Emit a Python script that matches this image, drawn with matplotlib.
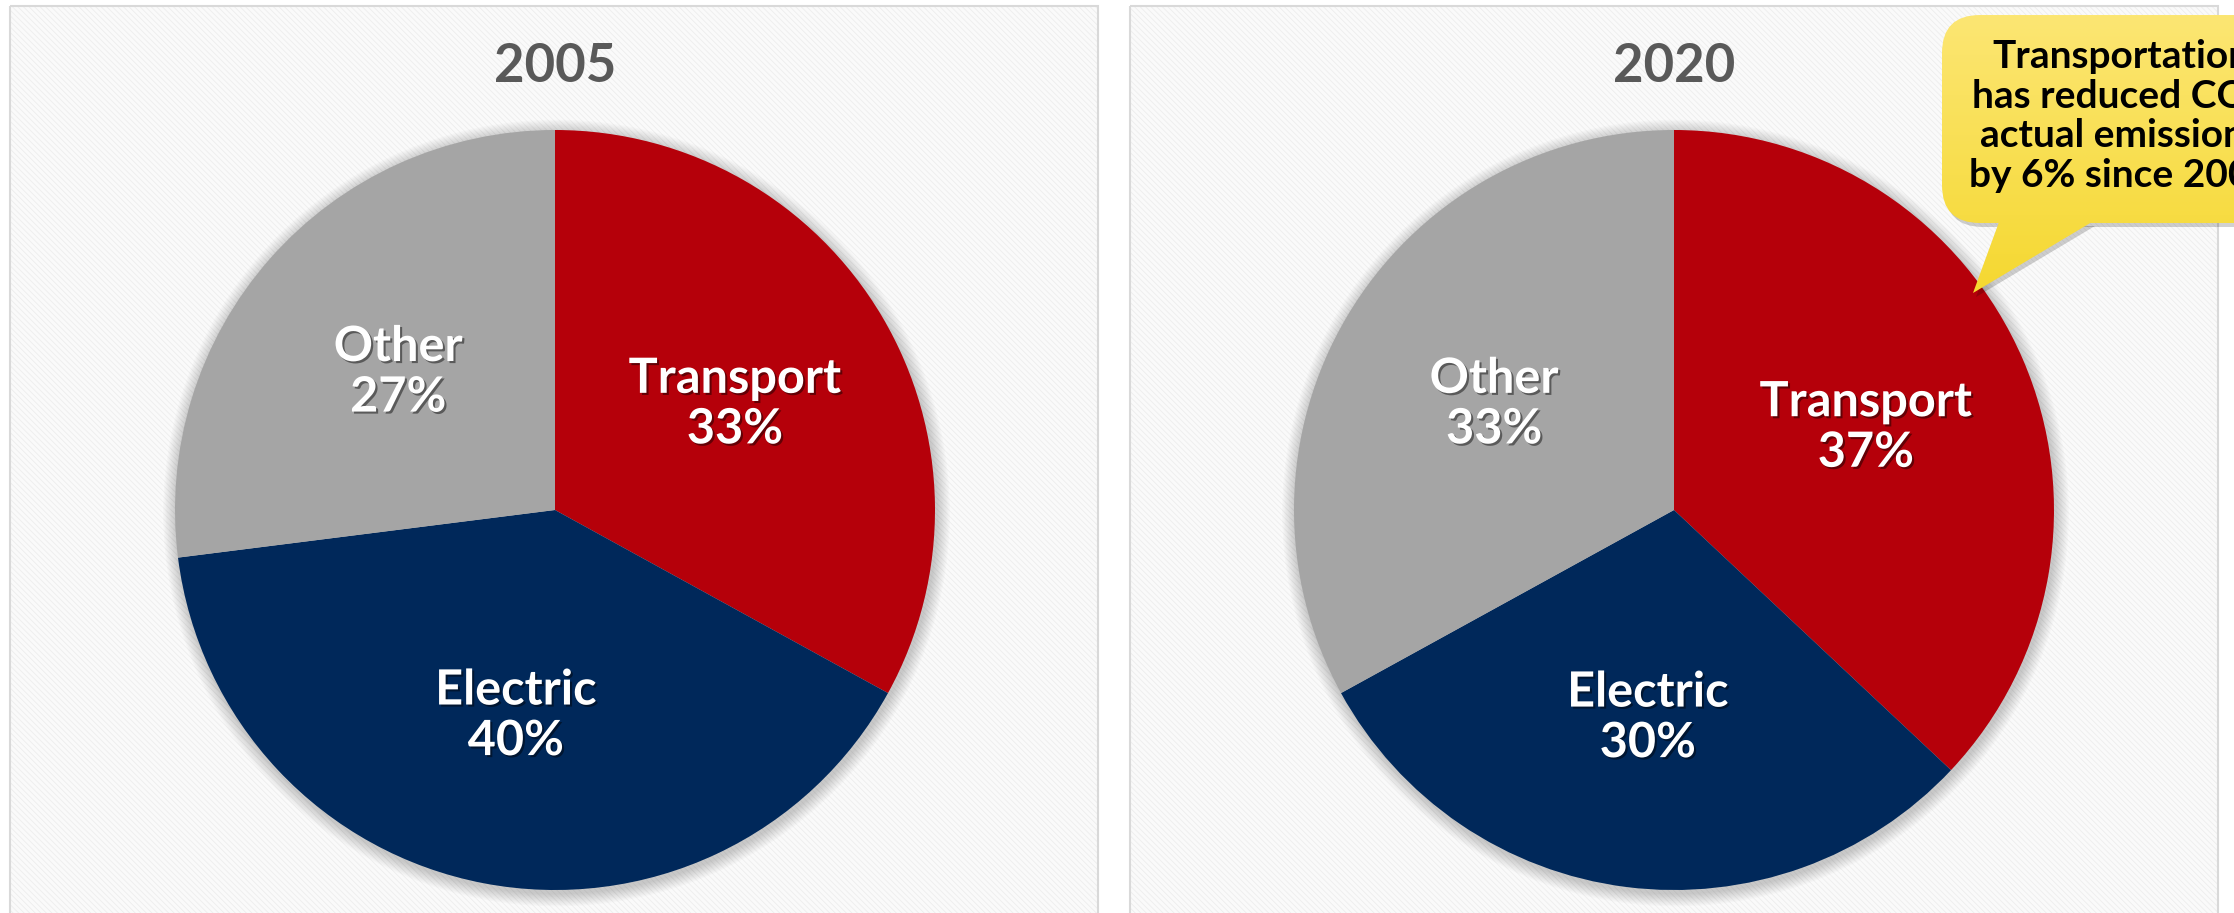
import numpy as np
import matplotlib.pyplot as plt
from matplotlib.patches import Rectangle, FancyBboxPatch, Polygon, Circle
from matplotlib.colors import LinearSegmentedColormap
import matplotlib.patheffects as pe

W, H = 2234, 913

# data
years = ['2005', '2020']
sectors = ['Transport', 'Electric', 'Other']
shares_2005 = [33, 40, 27]
shares_2020 = [37, 30, 33]
colors = ['#B5000A', '#00285A', '#A5A5A5']
callout_lines = ['Transportation', 'has reduced CO2', 'actual emissions', 'by 6% since 2005']

plt.rcParams['hatch.linewidth'] = 0.6
fig = plt.figure(figsize=(W / 100, H / 100), dpi=100)
fig.patch.set_facecolor('white')

# fond (pixel coords)
bg = fig.add_axes([0, 0, 1, 1], zorder=0)
bg.set_xlim(0, W)
bg.set_ylim(H, 0)
bg.axis('off')

panels = [(10, 1098), (1130, 2218)]
for x0, x1 in panels:
    bg.add_patch(Rectangle((x0, 6), x1 - x0, H, facecolor='#FAFAFA', edgecolor='#EDEDED',
                           hatch='\\\\\\\\\\\\', linewidth=0))
    bg.add_patch(Rectangle((x0, 6), x1 - x0, H, fill=False, edgecolor='#D9D9D9', linewidth=1.5))

# camemberts
centers = [555, 1674]
cy, r = 510, 380
lim = 1.1
for cx, year, shares in zip(centers, years, [shares_2005, shares_2020]):
    bg.text(cx, 82, year, ha='center', va='baseline', fontsize=38, fontweight='bold',
            color='#595959', family=['Lato', 'DejaVu Sans'])
    ax = fig.add_axes([(cx - r * lim) / W, (H - cy - r * lim) / H, 2 * r * lim / W, 2 * r * lim / H],
                      zorder=2)
    # ombre douce
    for i in range(10):
        ax.add_patch(Circle((0.004, -0.008), 1 + 0.0035 * (i + 1), color='black', alpha=0.02,
                            lw=0, clip_on=False))
    labels = [f'{s}\n{v}%' for s, v in zip(sectors, shares)]
    wedges, texts = ax.pie(shares, labels=labels, colors=colors, startangle=90, counterclock=False,
                           labeldistance=0.55, radius=1,
                           textprops=dict(color='white', fontsize=35, fontweight='bold',
                                          ha='center', va='center', linespacing=1.15,
                                          family=['Lato', 'DejaVu Sans']))
    for t in texts:
        t.set_path_effects([pe.withSimplePatchShadow(offset=(1.5, -1.5), shadow_rgbFace='black',
                                                     alpha=0.45)])
    ax.set_xlim(-lim, lim)
    ax.set_ylim(-lim, lim)
    ax.set_aspect('equal')
    ax.axis('off')

# bulle
fg = fig.add_axes([0, 0, 1, 1], zorder=5)
fg.patch.set_alpha(0)
fg.axis('off')

bx, by, bw, bh = 1942, 15, 390, 208
tail_pts = [(1999, by + bh - 1), (1973, 293), (2092, by + bh - 1)]

fg.add_patch(FancyBboxPatch((bx + 3, by + 4), bw, bh, boxstyle='round,pad=0,rounding_size=38',
                            facecolor='black', alpha=0.18, lw=0, zorder=1))
fg.add_patch(Polygon([(x + 3, y + 4) for x, y in tail_pts], closed=True,
                     facecolor='black', alpha=0.18, lw=0, zorder=1))

box = FancyBboxPatch((bx, by), bw, bh, boxstyle='round,pad=0,rounding_size=38',
                     facecolor='none', edgecolor='none')
tail = Polygon(tail_pts, closed=True, facecolor='none', edgecolor='none')
fg.add_patch(box)
fg.add_patch(tail)

cmap = LinearSegmentedColormap.from_list('jaune', ['#FCE673', '#F5D830'])
grad = np.linspace(0, 1, 200).reshape(-1, 1)
for p in [box, tail]:
    im = fg.imshow(grad, cmap=cmap, extent=(bx, bx + bw + 10, 295, by), aspect='auto',
                   origin='upper', interpolation='bilinear', zorder=2)
    im.set_clip_path(p)

baselines = [68, 108, 147, 187]
for line, yb in zip(callout_lines, baselines):
    fg.text(2121, yb, line, ha='center', va='baseline', fontsize=28, fontweight='bold',
            color='black', family=['Lato', 'DejaVu Sans'], zorder=3)

fg.set_xlim(0, W)
fg.set_ylim(H, 0)

fig.savefig('out.png', dpi=100, facecolor='white')
